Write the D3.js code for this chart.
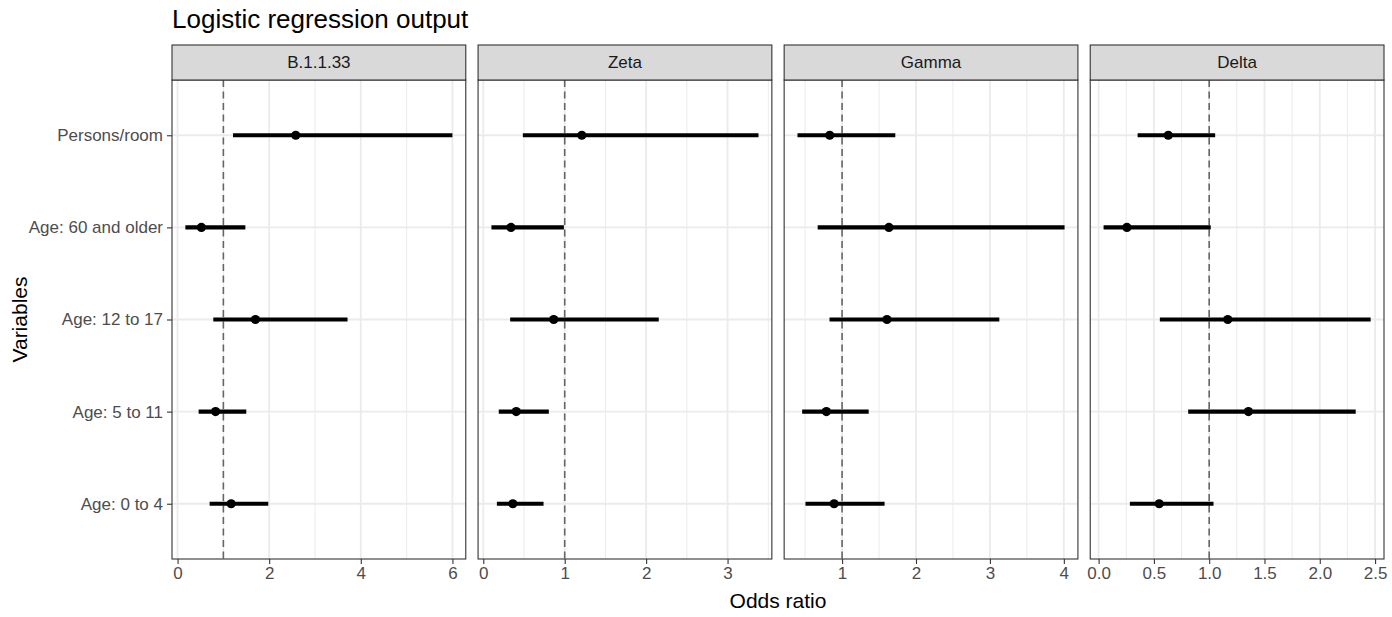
<!DOCTYPE html>
<html>
<head>
<meta charset="utf-8">
<script src="https://cdn.jsdelivr.net/npm/d3@7"></script>
<style>
  body { margin: 0; background: #fff; }
  text { font-family: "Liberation Sans", Arial, Helvetica, sans-serif; }
</style>
</head>
<body>
<svg class="plot" width="1392" height="617"></svg>
<script>
// facet names, left to right
var variants = ["B.1.1.33", "Zeta", "Gamma", "Delta"];
// rows, top to bottom
var variables = ["Persons/room", "Age: 60 and older", "Age: 12 to 17", "Age: 5 to 11", "Age: 0 to 4"];

// one row per variant, values in the same order as variables
var oddsRatio = [
  [2.58, 0.52, 1.70, 0.83, 1.17],
  [1.21, 0.34, 0.865, 0.405, 0.363],
  [0.833, 1.634, 1.607, 0.788, 0.892],
  [0.63, 0.256, 1.168, 1.355, 0.548]
];
var lowerCI = [
  [1.21, 0.17, 0.78, 0.46, 0.70],
  [0.486, 0.10, 0.33, 0.19, 0.167],
  [0.397, 0.67, 0.83, 0.46, 0.505],
  [0.353, 0.045, 0.554, 0.81, 0.283]
];
var upperCI = [
  [6.00, 1.48, 3.71, 1.50, 1.98],
  [3.38, 0.99, 2.155, 0.805, 0.74],
  [1.72, 4.01, 3.127, 1.36, 1.575],
  [1.054, 1.014, 2.46, 2.325, 1.039]
];

// major x ticks per panel (free x scales)
var xTicks = [
  [0, 2, 4, 6],
  [0, 1, 2, 3],
  [1, 2, 3, 4],
  [0, 0.5, 1, 1.5, 2, 2.5]
];
var tickFormats = ["d", "d", "d", ".1f"];

var svg = d3.select(".plot"),
    margin = {top: 45, right: 8, bottom: 58, left: 172},
    stripH = 35,
    gap = 12.3,
    innerW = +svg.attr("width") - margin.left - margin.right,
    panelW = (innerW - gap * (variants.length - 1)) / variants.length,
    panelTop = margin.top + stripH,
    panelBottom = +svg.attr("height") - margin.bottom;

// discrete y axis, ggplot style padding of 0.6 of a step at each end
var y = d3.scalePoint().domain(variables).range([panelTop, panelBottom]).padding(0.6);

// title
svg.append("text")
    .attr("x", margin.left)
    .attr("y", 28)
    .style("font-size", "26px")
    .style("fill", "#000")
    .text("Logistic regression output");

variants.forEach(function(name, i) {
  var x0 = margin.left + i * (panelW + gap);

  // 5% expansion of the data range, like ggplot
  var lo = d3.min(lowerCI[i]), hi = d3.max(upperCI[i]), pad = (hi - lo) * 0.05;
  var x = d3.scaleLinear().domain([lo - pad, hi + pad]).range([x0, x0 + panelW]);

  var g = svg.append("g").attr("class", "panel");

  // panel background
  g.append("rect")
      .attr("x", x0).attr("y", panelTop)
      .attr("width", panelW).attr("height", panelBottom - panelTop)
      .attr("fill", "#fff");

  // minor grid: midpoints between major ticks
  var major = xTicks[i], step = major[1] - major[0];
  var minor = [];
  for (var v = major[0] - step / 2; v <= x.domain()[1]; v += step) {
    if (v >= x.domain()[0]) minor.push(v);
  }
  g.selectAll(".minor")
      .data(minor)
      .enter().append("line")
      .attr("x1", function(d) { return x(d); })
      .attr("x2", function(d) { return x(d); })
      .attr("y1", panelTop).attr("y2", panelBottom)
      .attr("stroke", "#ebebeb").attr("stroke-width", 1);

  // major grid
  g.selectAll(".majorx")
      .data(major)
      .enter().append("line")
      .attr("x1", function(d) { return x(d); })
      .attr("x2", function(d) { return x(d); })
      .attr("y1", panelTop).attr("y2", panelBottom)
      .attr("stroke", "#ebebeb").attr("stroke-width", 1.8);

  g.selectAll(".majory")
      .data(variables)
      .enter().append("line")
      .attr("x1", x0).attr("x2", x0 + panelW)
      .attr("y1", function(d) { return y(d); })
      .attr("y2", function(d) { return y(d); })
      .attr("stroke", "#ebebeb").attr("stroke-width", 1.8);

  // reference line at odds ratio 1
  g.append("line")
      .attr("x1", x(1)).attr("x2", x(1))
      .attr("y1", panelTop).attr("y2", panelBottom)
      .attr("stroke", "#666").attr("stroke-width", 1.6)
      .attr("stroke-dasharray", "7,4.5");

  // confidence intervals
  g.selectAll(".ci")
      .data(variables)
      .enter().append("line")
      .attr("x1", function(d, j) { return x(lowerCI[i][j]); })
      .attr("x2", function(d, j) { return x(upperCI[i][j]); })
      .attr("y1", function(d) { return y(d); })
      .attr("y2", function(d) { return y(d); })
      .attr("stroke", "#000").attr("stroke-width", 4.2);

  // point estimates
  g.selectAll(".dots")
      .data(variables)
      .enter().append("circle")
      .attr("cx", function(d, j) { return x(oddsRatio[i][j]); })
      .attr("cy", function(d) { return y(d); })
      .attr("r", 4.6)
      .attr("fill", "#000");

  // panel border
  g.append("rect")
      .attr("x", x0).attr("y", panelTop)
      .attr("width", panelW).attr("height", panelBottom - panelTop)
      .attr("fill", "none").attr("stroke", "#333").attr("stroke-width", 1.1);

  // strip
  g.append("rect")
      .attr("x", x0).attr("y", margin.top)
      .attr("width", panelW).attr("height", stripH)
      .attr("fill", "#d9d9d9").attr("stroke", "#333").attr("stroke-width", 1.1);
  g.append("text")
      .attr("x", x0 + panelW / 2)
      .attr("y", margin.top + stripH / 2)
      .attr("dy", "0.35em")
      .attr("text-anchor", "middle")
      .style("font-size", "17px")
      .style("fill", "#1a1a1a")
      .text(name);

  // x axis
  var ax = g.append("g")
      .attr("class", "axis axis--x")
      .attr("transform", "translate(0," + panelBottom + ")")
      .call(d3.axisBottom(x).tickValues(major).tickFormat(d3.format(tickFormats[i])).tickSizeOuter(0).tickSize(5).tickPadding(3));
  ax.select(".domain").remove();
  ax.selectAll(".tick line").attr("stroke", "#333").attr("stroke-width", 1.1);
  ax.selectAll(".tick text").style("font-size", "17px").style("fill", "#4d4d4d").attr("font-family", null);

  // y axis on the first panel only
  if (i === 0) {
    var ay = g.append("g")
        .attr("class", "axis axis--y")
        .attr("transform", "translate(" + x0 + ",0)")
        .call(d3.axisLeft(y).tickSizeOuter(0).tickSize(5).tickPadding(4));
    ay.select(".domain").remove();
    ay.selectAll(".tick line").attr("stroke", "#333").attr("stroke-width", 1.1);
    ay.selectAll(".tick text").style("font-size", "17px").style("fill", "#4d4d4d").attr("font-family", null);
  }
});

// axis titles
svg.append("text")
    .attr("x", margin.left + innerW / 2)
    .attr("y", 608)
    .attr("text-anchor", "middle")
    .style("font-size", "21px")
    .text("Odds ratio");

svg.append("text")
    .attr("transform", "translate(27," + (panelTop + panelBottom) / 2 + ") rotate(-90)")
    .attr("text-anchor", "middle")
    .style("font-size", "21px")
    .text("Variables");
</script>
</body>
</html>
